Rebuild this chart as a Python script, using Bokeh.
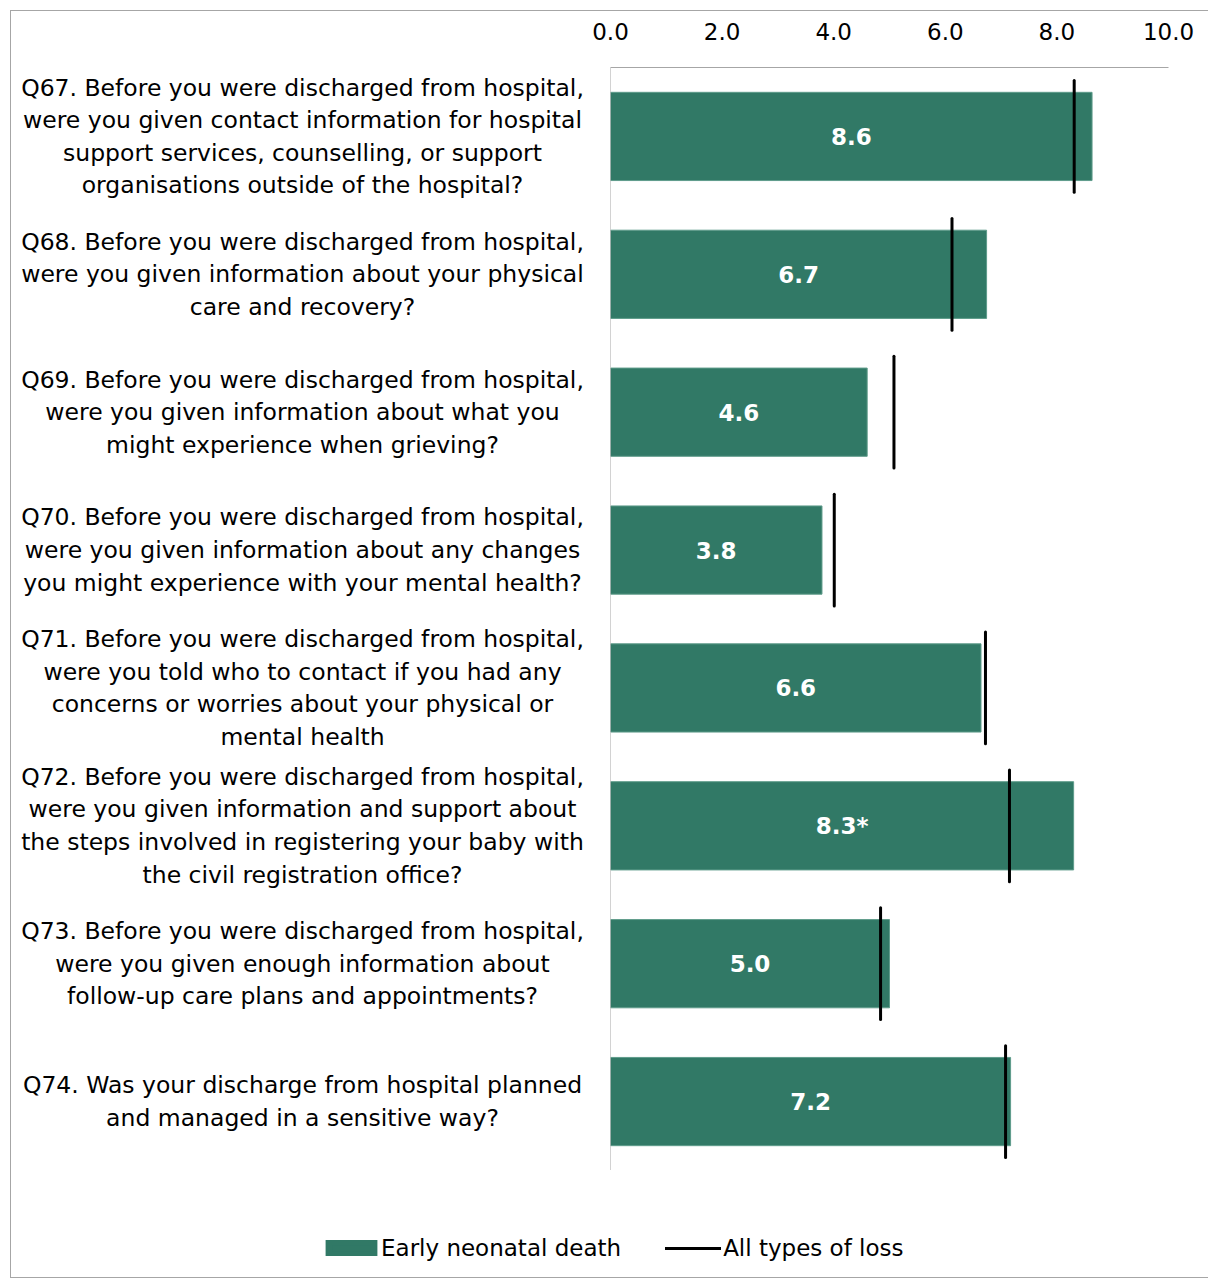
from bokeh.plotting import figure
from bokeh.models import (ColumnDataSource, FactorRange, LabelSet, Legend, LegendItem,
                          FixedTicker, CustomJSTickFormatter, Range1d, Span)
from bokeh.layouts import row, column
from bokeh.core.properties import value
from bokeh.transform import dodge
from bokeh.embed import file_html
from bokeh.resources import INLINE

codes = ["Q67", "Q68", "Q69", "Q70", "Q71", "Q72", "Q73", "Q74"]
questions = [
    "Q67. Before you were discharged from hospital,\nwere you given contact information for hospital\nsupport services, counselling, or support\norganisations outside of the hospital?",
    "Q68. Before you were discharged from hospital,\nwere you given information about your physical\ncare and recovery?",
    "Q69. Before you were discharged from hospital,\nwere you given information about what you\nmight experience when grieving?",
    "Q70. Before you were discharged from hospital,\nwere you given information about any changes\nyou might experience with your mental health?",
    "Q71. Before you were discharged from hospital,\nwere you told who to contact if you had any\nconcerns or worries about your physical or\nmental health",
    "Q72. Before you were discharged from hospital,\nwere you given information and support about\nthe steps involved in registering your baby with\nthe civil registration office?",
    "Q73. Before you were discharged from hospital,\nwere you given enough information about\nfollow-up care plans and appointments?",
    "Q74. Was your discharge from hospital planned\nand managed in a sensitive way?",
]
early_neonatal = [8.63, 6.74, 4.60, 3.79, 6.64, 8.30, 5.00, 7.17]
value_labels = ["8.6", "6.7", "4.6", "3.8", "6.6", "8.3*", "5.0", "7.2"]
all_loss = [8.31, 6.12, 5.08, 4.01, 6.72, 7.15, 4.84, 7.08]
x_ticks = [0, 2, 4, 6, 8, 10]
series_names = ["Early neonatal death", "All types of loss"]

FONT = "DejaVu Sans"
GREEN = "#317966"
EDGE = "#5f9c8b"
GRAY = "#a6a6a6"

src = ColumnDataSource(dict(
    code=codes, q=questions, val=early_neonatal, half=[v / 2 for v in early_neonatal],
    lab=value_labels, loss=all_loss,
))

yr = FactorRange(factors=list(reversed(codes)), range_padding=0)

TOP = 56
FRAME_H = 1103
LEFT_W = 579

# ---- question labels panel ----
pa = figure(width=LEFT_W, height=TOP + FRAME_H, output_backend="svg", toolbar_location=None,
            y_range=yr, x_range=Range1d(0, 1),
            min_border_left=0, min_border_right=0, min_border_top=TOP, min_border_bottom=0)
pa.axis.visible = False
pa.grid.visible = False
pa.outline_line_color = None
pa.text(x=0.5026, y="code", text="q", source=src, text_align="center",
        text_baseline="middle", text_color="black", text_font=value(FONT),
        text_font_size="23.5px", text_line_height=1.165)

# ---- bar chart panel ----
pb = figure(width=1198 - LEFT_W, height=TOP + FRAME_H, output_backend="svg", toolbar_location=None,
            y_range=yr, x_range=Range1d(0, 10), x_axis_location="above",
            min_border_left=20, min_border_right=41, min_border_top=TOP, min_border_bottom=0)
pb.outline_line_color = None
pb.grid.visible = False
pb.yaxis.visible = False

xa = pb.xaxis[0]
xa.ticker = FixedTicker(ticks=x_ticks)
xa.formatter = CustomJSTickFormatter(code="return tick.toFixed(1);")
xa.major_tick_line_color = None
xa.minor_tick_line_color = None
xa.axis_line_color = GRAY
xa.major_label_text_font = FONT
xa.major_label_text_font_size = "23px"
xa.major_label_text_color = "black"
xa.major_label_standoff = 22

pb.add_layout(Span(location=0, dimension="height", line_color=GRAY, line_width=1))

pb.hbar(y="code", right="val", left=0, height=0.64, source=src,
        fill_color=GREEN, line_color=EDGE, line_width=1)
pb.segment(x0="loss", x1="loss",
           y0=dodge("code", -0.405, range=yr),
           y1=dodge("code", 0.405, range=yr),
           source=src, line_color="black", line_width=3, line_cap="round")

vl = LabelSet(x="half", y="code", text="lab", source=src, text_align="center",
              text_baseline="middle", text_color="white", text_font=value(FONT),
              text_font_size="23px", text_font_style="bold")
pb.add_layout(vl)

# ---- legend panel (swatch renderers hold one non-drawable NaN point) ----
pl = figure(width=1198, height=1266 - TOP - FRAME_H, output_backend="svg", toolbar_location=None,
            min_border_left=0, min_border_right=0, min_border_top=0, min_border_bottom=0,
            x_range=Range1d(0, 1), y_range=Range1d(0, 1))
pl.axis.visible = False
pl.grid.visible = False
pl.outline_line_color = None
nan = float("nan")
swatch_src = ColumnDataSource(dict(y=[nan], r=[nan], x=[nan]))
lb = pl.hbar(y="y", right="r", left="x", height=0.5, source=swatch_src,
             fill_color=GREEN, line_color=GREEN, line_width=7, line_join="miter")
ls = pl.segment(x0="x", x1="r", y0="y", y1="y", source=swatch_src, line_color="black",
                line_width=3, line_cap="round")
legend = Legend(items=[LegendItem(label=series_names[0], renderers=[lb]),
                       LegendItem(label=series_names[1], renderers=[ls])],
                orientation="horizontal", location=(312, 16),
                glyph_width=56, glyph_height=16, label_standoff=2, spacing=44,
                padding=0, margin=0, border_line_color=None, background_fill_alpha=0,
                label_text_font=FONT, label_text_font_size="23px", label_text_color="black")
pl.add_layout(legend, "center")

layout = column(row(pa, pb, spacing=0), pl, spacing=0)
layout.margin = (10, 0, 0, 10)
layout.styles = {"border-top": f"1px solid {GRAY}", "border-left": f"1px solid {GRAY}",
                 "border-bottom": f"1px solid {GRAY}"}

open("out.html", "w").write(file_html(layout, INLINE))
